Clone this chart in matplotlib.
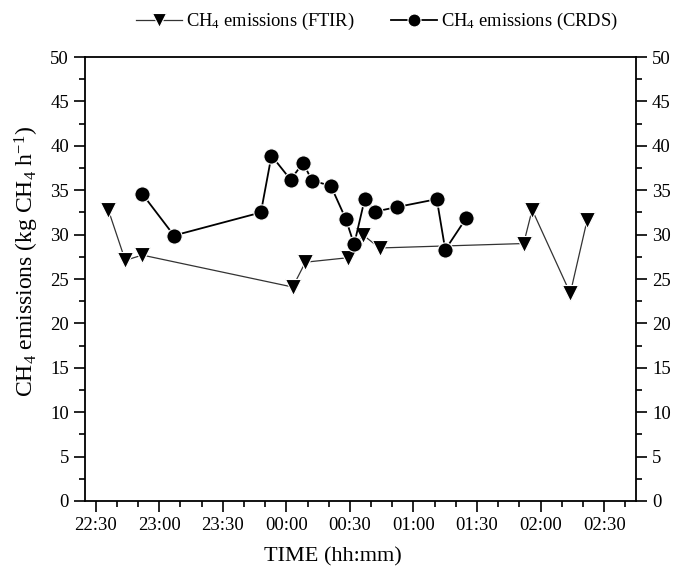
import matplotlib
matplotlib.use('Agg')
import matplotlib.pyplot as plt
from matplotlib.ticker import MultipleLocator, FuncFormatter

plt.rcParams['font.family'] = ['Liberation Serif', 'DejaVu Serif']
plt.rcParams['mathtext.fontset'] = 'custom'
plt.rcParams['mathtext.rm'] = 'Liberation Serif'
plt.rcParams['mathtext.it'] = 'Liberation Serif:italic'

# FTIR measurements
ftir_time = ['22:36', '22:44', '22:52', '00:03', '00:09', '00:29',
             '00:36', '00:44', '01:52', '01:56', '02:14', '02:22']
ftir_val = [32.8, 27.1, 27.7, 24.1, 26.9, 27.4, 30.0, 28.5, 29.0, 32.8, 23.4, 31.7]

# CRDS measurements
crds_time = ['22:52', '23:07', '23:48', '23:53', '00:02', '00:08', '00:12', '00:21',
             '00:28', '00:32', '00:37', '00:42', '00:52', '01:11', '01:15', '01:25']
crds_val = [34.6, 29.9, 32.5, 38.9, 36.2, 38.1, 36.1, 35.5,
            31.8, 28.9, 34.0, 32.6, 33.1, 34.0, 28.3, 31.9]


def to_min(t):
    # minutes after 22:00, runs past midnight
    h, m = t.split(':')
    v = int(h) * 60 + int(m) - 22 * 60
    if v < 0:
        v += 24 * 60
    return v


def fmt(v, pos):
    v = int(round(v)) + 22 * 60
    return '%02d:%02d' % ((v // 60) % 24, v % 60)


x1 = [to_min(t) for t in ftir_time]
x2 = [to_min(t) for t in crds_time]

fig = plt.figure(figsize=(6.73, 5.71), dpi=100)
ax = fig.add_axes([0.1263, 0.1226, 0.8187, 0.7774])

ax.plot(x1, ftir_val, color='#333333', lw=0.9, marker='v', ms=12, mfc='black',
        mec='white', mew=0.8, label='CH$_4$ emissions (FTIR)')
ax.plot(x2, crds_val, color='black', lw=1.3, marker='o', ms=11, mfc='black',
        mec='white', mew=0.8, label='CH$_4$ emissions (CRDS)')

ax.set_xlim(25, 285)
ax.set_ylim(0, 50)
ax.xaxis.set_major_locator(MultipleLocator(30))
ax.xaxis.set_minor_locator(MultipleLocator(10))
ax.xaxis.set_major_formatter(FuncFormatter(fmt))
ax.yaxis.set_major_locator(MultipleLocator(5))
ax.yaxis.set_minor_locator(MultipleLocator(2.5))

ax.tick_params(which='both', direction='out', labelsize=13.5, width=1.2,
               left=True, right=True, labelright=True)
ax.tick_params(which='major', length=8)
ax.tick_params(which='minor', length=4)
for s in ax.spines.values():
    s.set_linewidth(1.3)

ax.set_xlabel('TIME (hh:mm)', fontsize=16)
ax.set_ylabel('CH$_4$ emissions (kg CH$_4$ h$^{-1}$)', fontsize=17)
ax.xaxis.set_label_coords(0.45, -0.105)
ax.yaxis.set_label_coords(-0.08, 0.54)

fig.legend(loc='upper center', bbox_to_anchor=(0.56, 1.01), ncol=2, frameon=False,
           fontsize=13.3, handlelength=2.5, columnspacing=2.0, handletextpad=0.2,
           markerscale=0.85)

fig.savefig('out.png', dpi=100)
